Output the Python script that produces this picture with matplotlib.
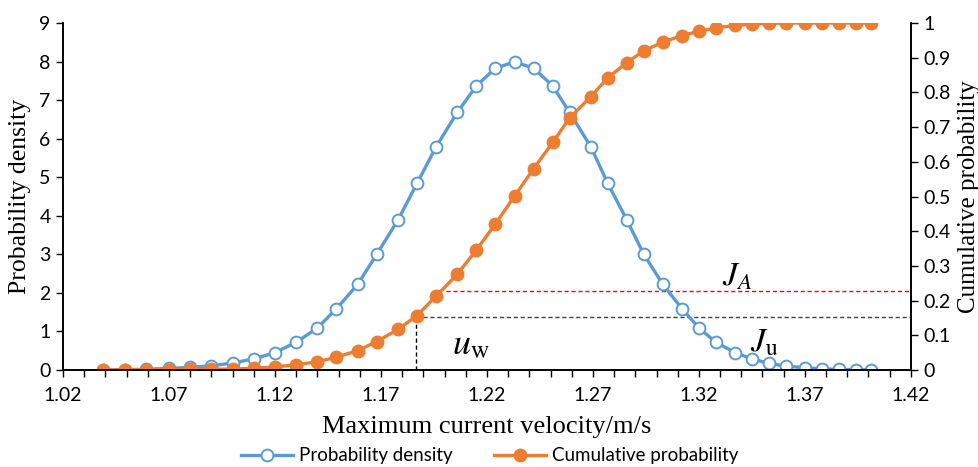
import matplotlib.pyplot as plt
from matplotlib.ticker import MultipleLocator, FixedLocator

plt.rcParams['font.family'] = ['Lato', 'DejaVu Sans']
plt.rcParams['mathtext.fontset'] = 'stix'

# velocity (m/s)
velocite = [1.039, 1.049, 1.059, 1.070, 1.080, 1.090, 1.100, 1.110, 1.120, 1.130,
            1.140, 1.149, 1.159, 1.168, 1.178, 1.187, 1.196, 1.206, 1.215, 1.224,
            1.233, 1.242, 1.251, 1.259, 1.269, 1.277, 1.286, 1.294, 1.303, 1.312,
            1.320, 1.328, 1.337, 1.345, 1.353, 1.361, 1.370, 1.378, 1.386, 1.394,
            1.401]

densite = [0.003, 0.008, 0.02, 0.04, 0.07, 0.11, 0.18, 0.29, 0.45, 0.72,
           1.09, 1.59, 2.22, 3.0, 3.89, 4.84, 5.79, 6.68, 7.37, 7.83,
           7.99, 7.83, 7.37, 6.68, 5.79, 4.84, 3.89, 3.0, 2.22, 1.59,
           1.09, 0.72, 0.45, 0.29, 0.17, 0.10, 0.06, 0.03, 0.015, 0.006,
           0.002]

cumul = [0.0, 0.0, 0.0005, 0.001, 0.0015, 0.002, 0.003, 0.005, 0.009, 0.015,
         0.024, 0.037, 0.056, 0.082, 0.117, 0.157, 0.213, 0.276, 0.346, 0.421,
         0.501, 0.580, 0.656, 0.726, 0.788, 0.842, 0.886, 0.920, 0.945, 0.964,
         0.976, 0.986, 0.993, 0.997, 0.999, 1.0, 1.0, 1.0, 1.0, 1.0,
         1.0]

u_w = 1.1866
J_u = 0.152
J_A = 0.228
x_JA = 1.2005

bleu = '#5B9BD5'
orange = '#ED7D31'

fig = plt.figure(figsize=(9.79, 4.67), dpi=100)
ax1 = fig.add_axes([0.0644, 0.2077, 0.866, 0.743])
ax2 = ax1.twinx()

ax1.set_xlim(1.02, 1.42)
ax1.set_ylim(0, 9)
ax2.set_ylim(0, 1)

# dashed guide lines (drawn in cumulative units, under the curves)
ax1.plot([u_w, u_w], [0, J_u], color='black', ls=(0, (3, 2)), lw=1, transform=ax2.transData, zorder=1)
ax1.plot([u_w, 1.42], [J_u, J_u], color='#404040', ls=(0, (3, 2)), lw=1, transform=ax2.transData, zorder=1)
ax1.plot([x_JA, 1.42], [J_A, J_A], color='red', ls=(0, (3, 2)), lw=1, transform=ax2.transData, zorder=1)

l1, = ax1.plot(velocite, densite, color=bleu, lw=2.4, marker='o', ms=8.5,
               mfc='white', mec=bleu, mew=1.4, label='Probability density', zorder=2)
l2, = ax2.plot(velocite, cumul, color=orange, lw=2.4, marker='o', ms=9,
               mfc=orange, mec=orange, label='Cumulative probability')

ax1.text(1.2035, 0.42, r'$u_{\mathrm{w}}$', fontsize=26, ha='left', va='baseline')
ax1.text(1.331, 2.18, r'$J_A$', fontsize=24, ha='left', va='baseline')
ax1.text(1.344, 0.48, r'$J_{\mathrm{u}}$', fontsize=24, ha='left', va='baseline')

ax1.xaxis.set_major_locator(FixedLocator([1.02, 1.07, 1.12, 1.17, 1.22, 1.27, 1.32, 1.37, 1.42]))
ax1.xaxis.set_minor_locator(MultipleLocator(0.01))
ax1.set_xticklabels(['1.02', '1.07', '1.12', '1.17', '1.22', '1.27', '1.32', '1.37', '1.42'])
ax1.yaxis.set_major_locator(MultipleLocator(1))
ax2.yaxis.set_major_locator(MultipleLocator(0.1))
ax2.yaxis.set_major_formatter(plt.FuncFormatter(lambda v, p: f'{v:g}'))

ax1.tick_params(axis='x', which='both', direction='out', length=5, width=1, labelsize=14, pad=7)
ax1.tick_params(axis='y', direction='out', length=5, width=1, labelsize=14, pad=4)
ax2.tick_params(axis='y', direction='out', length=5, width=1, labelsize=14, pad=4)

for ax in (ax1, ax2):
    ax.spines['top'].set_visible(False)
    for s in ('left', 'right', 'bottom'):
        ax.spines[s].set_linewidth(1.2)

ax1.set_xlabel('Maximum current velocity/m/s', family='Liberation Serif', fontsize=19, labelpad=9)
ax1.set_ylabel('Probability density', family='Liberation Serif', fontsize=18.5, labelpad=6)
ax2.set_ylabel('Cumulative probability', family='Liberation Serif', fontsize=18, labelpad=5)

fig.legend(handles=[l1, l2], loc='lower center', bbox_to_anchor=(0.5, -0.03), ncol=2,
           frameon=False, fontsize=13.5, handlelength=2.8, columnspacing=2.2, handletextpad=0.3)

fig.savefig('out.png', dpi=100)
